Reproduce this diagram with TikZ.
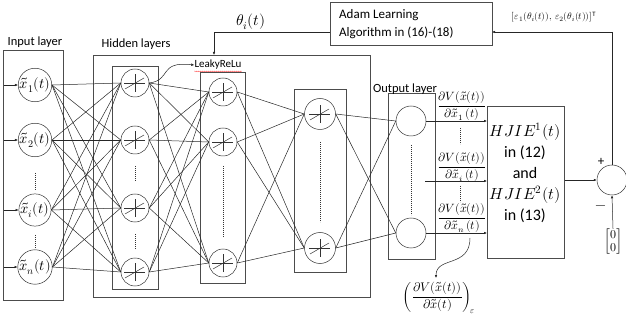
\documentclass[tikz,border=0pt]{standalone}
\usepackage{fontspec}
\usepackage{unicode-math}
\setmainfont{Carlito}
\usetikzlibrary{arrows.meta,decorations.pathmorphing}
\begin{document}
\begin{tikzpicture}[x=1pt,y=-1pt,
  every node/.style={inner sep=0pt},
  ln/.style={line width=0.5pt, draw=black!85},
  arr/.style={line width=0.5pt, draw=black!85, -{Latex[length=3pt,width=2.6pt]}},
  box/.style={draw=black!70, line width=0.6pt, rectangle, anchor=north west},
  neur/.style={circle, draw=black!80, line width=0.5pt},
  act/.style={neur, minimum size=28pt, path picture={
     \coordinate (pc) at (path picture bounding box.center);
     \draw[line width=0.5pt] ([xshift=-11pt]pc) -- ([xshift=10pt]pc);
     \draw[line width=0.5pt] ([yshift=-9pt]pc) -- ([yshift=9pt]pc);
     \draw[line width=0.5pt] ([shift={(-10pt,-6pt)}]pc) -- ([shift={(9pt,5pt)}]pc);}},
  dots/.style={line width=1pt, draw=black!80, dash pattern=on 0.8pt off 1.2pt},
  lbl/.style={font=\fontsize{12.5}{14}\selectfont},
  frac/.style={font=\fontsize{12}{14}\selectfont}
]
\useasboundingbox (0,0) rectangle (626,320);

% boxes
\node[box, minimum width=60pt, minimum height=250pt] (inbox) at (3,50) {};
\node[box, minimum width=277pt, minimum height=242pt] (hbox) at (93,55) {};
\node[box, minimum width=46pt, minimum height=223pt] (h1box) at (112,66) {};
\node[box, minimum width=45pt, minimum height=211pt] (h2box) at (200,72) {};
\node[box, minimum width=52pt, minimum height=183pt] (h3box) at (294,89) {};
\node[box, minimum width=47pt, minimum height=166pt] (obox) at (388,93) {};
\node[box, minimum width=77pt, minimum height=152pt] (hj) at (487,106) {};
\node[box, minimum width=162pt, minimum height=43pt] (adam) at (330,2) {};

% labels
\node[lbl] (linput) at (35,42) {Input layer};
\node[lbl] (lhidden) at (136,44) {Hidden layers};
\node[lbl] (loutput) at (405,89) {Output layer};
\node[font=\fontsize{13}{18}\selectfont, align=left, anchor=west] (adamtxt) at (339,24) {Adam Learning\\Algorithm in (16)-(18)};
\node[font=\fontsize{16}{21}\selectfont, align=center] (hjtxt) at (525,173)
  {$HJIE^1(t)$\\in (12)\\and\\$HJIE^2(t)$\\in (13)};

% input neurons
\foreach \i/\y/\s in {1/85/1, 2/140/2, 3/210/i, 4/267/n}{
  \node[neur, minimum size=32pt, font=\fontsize{14.5}{16}\selectfont] (in\i) at (35,\y) {$\tilde{x}_{\s}(t)$};
  \coordinate (src\i) at (4,\y);
  \draw[arr] (src\i) -- (in\i.west);
}
% hidden layer 1
\foreach \i/\y in {1/83, 2/140, 3/208, 4/272}{
  \node[act] (a\i) at (135,\y) {};
}
% hidden layer 2
\foreach \i/\y in {1/92, 2/142, 3/263}{
  \node[act] (b\i) at (223,\y) {};
}
% hidden layer 3
\foreach \i/\y in {1/114, 2/248}{
  \node[act, minimum size=31pt] (c\i) at (320,\y) {};
}
% output
\foreach \i/\y in {1/121, 2/233}{
  \node[neur, minimum size=30pt] (o\i) at (411,\y) {};
}

% connections
\foreach \i in {1,...,4}{\foreach \j in {1,...,4}{\draw[ln] (in\i.east) -- (a\j.west);}}
\foreach \i in {1,...,4}{\foreach \j in {1,...,3}{\draw[ln] (a\i.east) -- (b\j.west);}}
\foreach \i in {1,...,3}{\foreach \j in {1,2}{\draw[ln] (b\i.east) -- (c\j.west);}}
\foreach \i in {1,2}{\foreach \j in {1,2}{\draw[ln] (c\i.east) -- (o\j.west);}}

% dots
\draw[dots] (35,173) -- (35,190);
\draw[dots] (35,235) -- (35,248);
\draw[dots] (135,166) -- (135,181);
\draw[dots] (135,234) -- (135,249);
\draw[dots] (223,166) -- (223,237);
\draw[dots] (320,142) -- (320,222);
\draw[dots] (411,145) -- (411,215);
\draw[dots] (460,128) -- (460,144);
\draw[dots] (460,186) -- (460,202);

% LeakyReLu
\node[font=\fontsize{11}{13}\selectfont] (lk) at (218,65) {LeakyReLu};
\draw[red!80, line width=0.3pt, decorate, decoration={snake, amplitude=0.5pt, segment length=2pt}]
  ([yshift=-1.5pt]lk.south west) -- ([yshift=-1.5pt]lk.south east);
\draw[arr] (a1.east) .. controls (172,80) and (158,61) .. (lk.west);

% outputs to HJIE
\node[frac] (f1) at (462,106) {$\dfrac{\partial V(\tilde{x}(t))}{\partial \tilde{x}_1\,(t)}$};
\node[frac] (f2) at (462,167) {$\dfrac{\partial V(\tilde{x}(t))}{\partial \tilde{x}_i\,(t)}$};
\node[frac] (f3) at (462,218) {$\dfrac{\partial V(\tilde{x}(t))}{\partial \tilde{x}_n\,(t)}$};
\draw[arr] (o1.east) -- (o1.east -| hj.west);
\coordinate (mid) at (425,181);
\draw[arr] (mid) -- (mid -| hj.west);
\draw[arr] (o2.east) -- (o2.east -| hj.west);

% bottom label
\node[font=\fontsize{12.5}{14}\selectfont] (grad) at (439,298)
  {$\left(\dfrac{\partial V(\tilde{x}(t))}{\partial \tilde{x}(t)}\right)_{\!\varepsilon}$};
\coordinate (gs) at (470,238);
\draw[arr] (gs) .. controls (470,268) and (436,256) .. (436,278);

% summing junction
\node[neur, minimum size=30pt] (sum) at (612,180) {};
\draw[arr] (sum.west -| hj.east) -- (sum.west);
\node[font=\fontsize{13}{14}\selectfont] (plus) at (601,162) {+};
\node[font=\fontsize{14}{14}\selectfont] (minus) at (601,208) {$-$};
\node[font=\fontsize{12}{13}\selectfont] (zz) at (613,242) {$\begin{bmatrix}0\\0\end{bmatrix}$};
\draw[arr] (zz.north) -- (sum.south);

% feedback
\coordinate (ain) at (492,32);
\draw[arr] (sum.north) |- (ain);
\node[font=\fontsize{9.5}{11}\selectfont] (eps) at (554,17)
  {$[\varepsilon_1(\theta_i(t)),\,\varepsilon_2(\theta_i(t))]^{\mathrm{T}}$};
\coordinate (aout) at (330,32);
\coordinate (tin) at (214,55);
\draw[arr] (aout) -| (tin);
\node[font=\fontsize{15.5}{16}\selectfont] (theta) at (251,22) {$\theta_i(t)$};
\end{tikzpicture}
\end{document}
